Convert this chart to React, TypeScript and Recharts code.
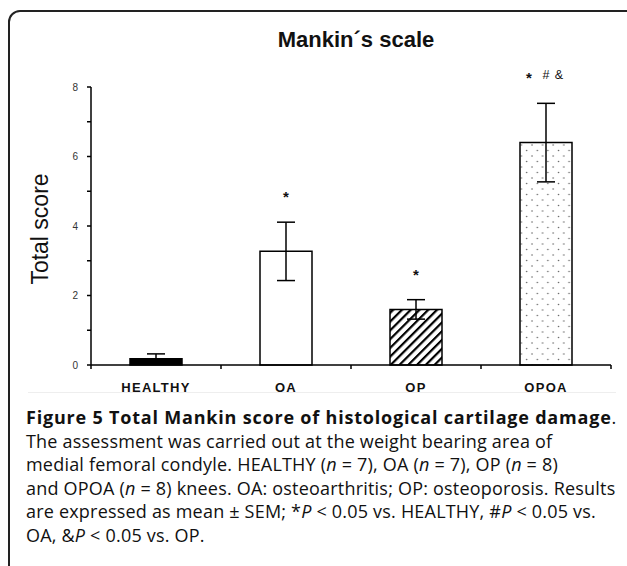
import React from 'react';
import { BarChart, Bar, XAxis, YAxis, Cell, ErrorBar, LabelList } from 'recharts';

const categories = ['HEALTHY', 'OA', 'OP', 'OPOA'];
const means = [0.18, 3.27, 1.6, 6.4];
const sems = [0.14, 0.84, 0.28, 1.13];
const marks = ['', '*', '*', '* # &'];
const yTicks = [0, 1, 2, 3, 4, 5, 6, 7, 8];
const fills = ['#000', '#fff', 'url(#hatch)', 'url(#dots)'];

const data = categories.map((name, i) => ({ name, mean: means[i], sem: sems[i], mark: marks[i] }));

const ARIAL = '"Liberation Sans", Arial, sans-serif';
const HALF_BAND = 65;
const MARK_OFFSETS = [-17, 0, 13];

const YTick = (props: any) => {
  const { x, y, payload } = props;
  if (payload.value % 2 !== 0) return null;
  return (
    <text x={x} y={y} dy={3.5} textAnchor="end" fontSize={10} fill="#333" fontFamily={ARIAL}>
      {payload.value}
    </text>
  );
};

const XTick = (props: any) => {
  const { x, y, payload, index } = props;
  const axisY = y - 10;
  return (
    <g>
      <line x1={x + HALF_BAND} x2={x + HALF_BAND} y1={axisY} y2={axisY + 4} stroke="#000" strokeWidth={1.5} />
      {index === 0 && <line x1={x - HALF_BAND} x2={x - HALF_BAND} y1={axisY} y2={axisY + 4} stroke="#000" strokeWidth={1.5} />}
      <text x={x} y={axisY + 27} textAnchor="middle" fontSize={13} fontWeight="bold" letterSpacing={1.3} fill="#111" fontFamily={ARIAL}>
        {payload.value}
      </text>
    </g>
  );
};

const MarkLabel = (props: any) => {
  const { x, y, width, height, value, index } = props;
  if (!value) return null;
  const pxPerUnit = height / means[index];
  const errTop = y - sems[index] * pxPerUnit;
  const parts = String(value).split(' ');
  const cx = x + width / 2;
  return (
    <g>
      {parts.map((p, i) => (
        <text
          key={i}
          x={cx + (parts.length > 1 ? MARK_OFFSETS[i] : 0)}
          y={p === '*' ? errTop - 20 : errTop - 24.5}
          textAnchor="middle"
          fontSize={p === '*' ? 15 : 12.5}
          fontWeight={p === '*' ? 'bold' : 'normal'}
          fill="#111"
          fontFamily={ARIAL}
        >
          {p}
        </text>
      ))}
    </g>
  );
};

export default function App() {
  return (
    <div style={{ position: 'absolute', left: 0, top: 0, width: 627, height: 566, overflow: 'hidden', background: '#fff' }}>
      <div style={{ position: 'absolute', left: 8, top: 10, width: 640, height: 600, border: '2px solid #222', borderRadius: 12, boxSizing: 'border-box' }} />
      <div style={{ position: 'absolute', left: 0, top: 27, width: 712, textAlign: 'center', fontFamily: ARIAL, fontWeight: 'bold', fontSize: 22, color: '#111' }}>
        Mankin´s scale
      </div>
      <div style={{ position: 'absolute', left: 40, top: 229, transform: 'translate(-50%, -50%) rotate(-90deg)', fontFamily: ARIAL, fontSize: 23, color: '#111', whiteSpace: 'nowrap' }}>
        Total score
      </div>
      <div style={{ position: 'absolute', left: 0, top: 0 }}>
        <BarChart width={627} height={400} data={data} margin={{ top: 87, right: 16, left: 11, bottom: 5 }} barCategoryGap="30%">
          <defs>
            <pattern id="hatch" width={6.2} height={6.2} patternUnits="userSpaceOnUse" patternTransform="rotate(45)">
              <rect width={6.2} height={6.2} fill="#fff" />
              <line x1={0} y1={0} x2={0} y2={6.2} stroke="#000" strokeWidth={4.4} />
            </pattern>
            <pattern id="dots" width={10.6} height={11} patternUnits="userSpaceOnUse">
              <rect width={10.6} height={11} fill="#fff" />
              <circle cx={2} cy={2} r={0.8} fill="#666" />
              <circle cx={7.3} cy={7.5} r={0.8} fill="#666" />
            </pattern>
          </defs>
          <XAxis dataKey="name" tickLine={false} tickSize={5} tickMargin={5} height={30} axisLine={{ stroke: '#000', strokeWidth: 1.5 }} tick={<XTick />} interval={0} />
          <YAxis width={80} domain={[0, 8]} ticks={yTicks} interval={0} tickSize={4} tickMargin={9} axisLine={{ stroke: '#000', strokeWidth: 1.5 }} tickLine={{ stroke: '#000', strokeWidth: 1.5 }} tick={<YTick />} />
          <Bar dataKey="mean" stroke="#000" strokeWidth={1.5} isAnimationActive={false}>
            {data.map((d, i) => (
              <Cell key={d.name} fill={fills[i]} />
            ))}
            <ErrorBar dataKey="sem" width={9} stroke="#000" strokeWidth={1.5} />
            <LabelList dataKey="mark" content={<MarkLabel />} />
          </Bar>
        </BarChart>
      </div>
      <div style={{ position: 'absolute', left: 28, top: 392, width: 588, height: 1, background: '#eee' }} />
      <div style={{ position: 'absolute', left: 26, top: 406, fontFamily: '"Open Sans", sans-serif', fontSize: 18, lineHeight: '23.5px', letterSpacing: 0.2, color: '#111', whiteSpace: 'nowrap' }}>
        <div style={{ letterSpacing: 0.8 }}><b>Figure 5 Total Mankin score of histological cartilage damage</b>.</div>
        <div>The assessment was carried out at the weight bearing area of</div>
        <div>medial femoral condyle. HEALTHY (<i>n</i> = 7), OA (<i>n</i> = 7), OP (<i>n</i> = 8)</div>
        <div>and OPOA (<i>n</i> = 8) knees. OA: osteoarthritis; OP: osteoporosis. Results</div>
        <div>are expressed as mean ± SEM; *<i>P</i> &lt; 0.05 vs. HEALTHY, #<i>P</i> &lt; 0.05 vs.</div>
        <div>OA, &amp;<i>P</i> &lt; 0.05 vs. OP.</div>
      </div>
    </div>
  );
}
